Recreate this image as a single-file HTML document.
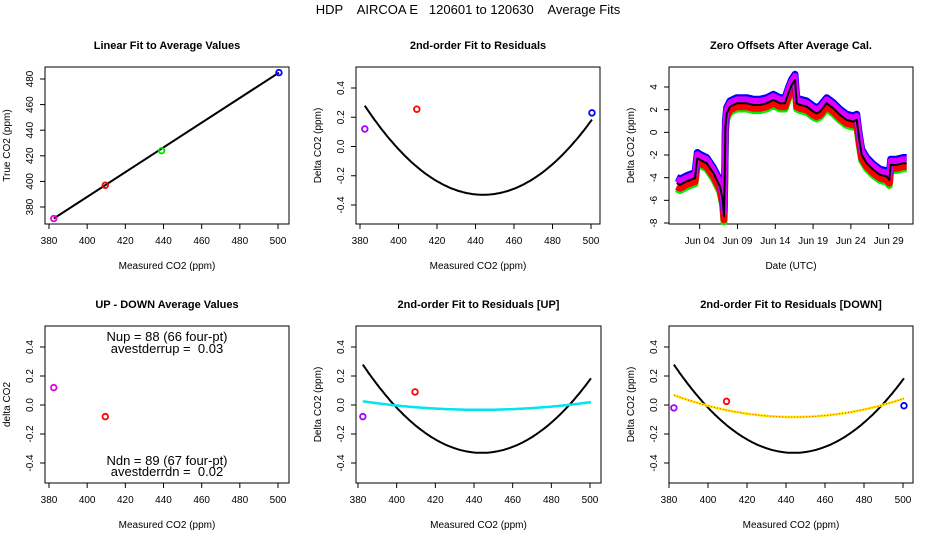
<!DOCTYPE html>
<html><head><meta charset="utf-8">
<style>
html,body{margin:0;padding:0;background:#fff;}
svg{display:block;font-family:"Liberation Sans",sans-serif;}
svg text{white-space:pre;}
</style></head>
<body>
<svg id="chart" width="936" height="540" viewBox="0 0 936 540" xmlns="http://www.w3.org/2000/svg" xml:space="preserve">
<text x="468" y="14" text-anchor="middle" font-size="13">HDP    AIRCOA E   120601 to 120630    Average Fits</text>
</svg>
<script>
// ---------- data ----------
const p1X = [382.5, 409.5, 439.0, 500.5];
const p1Y = [371, 397, 424, 485];
const p1Colors = ['#e000e0', '#ff0000', '#00dd00', '#0000ff'];
const p1Line = [[382.5, 371], [500.5, 485]];
const p2X = [382.5, 409.5, 500.5];
const p2Y = [0.12, 0.255, 0.23];
const p2Colors = ['#a000ff', '#ff0000', '#0000ff'];
const fitAll = [1.61e-4, 444, -0.33];
const fitUp = [1.6e-5, 443, -0.033];
const fitDown = [4.0e-5, 444, -0.083];
const fitRange = [382.5, 500.5];
const tsDays = [0.96,1.40,2.28,3.38,3.69,4.04,4.92,5.81,6.69,7.04,7.22,7.31,7.40,7.57,8.01,8.90,10.22,11.09,11.98,12.86,13.74,14.62,15.29,15.73,16.17,16.61,16.83,17.27,18.15,19.03,19.48,19.92,20.80,21.67,22.56,23.44,24.32,24.77,25.12,25.43,26.09,26.97,27.85,28.74,29.08,29.27,30.06,30.93,31.38];
const tsVals = [-4.48,-4.63,-4.33,-4.04,-2.28,-2.43,-2.72,-3.60,-4.77,-5.95,-7.41,-4.19,0.51,1.68,2.27,2.56,2.56,2.42,2.42,2.56,2.86,2.56,2.56,3.44,4.18,4.62,2.56,2.42,2.27,1.83,1.68,1.83,2.56,2.12,1.54,1.10,0.95,1.10,-0.67,-1.99,-2.72,-3.31,-3.75,-3.89,-4.19,-2.87,-2.87,-2.72,-2.72];
const tsSeriesNames = ['green', 'red', 'blue', 'magenta', 'black'];
const tsSeriesOffsets = [-0.5, -0.3, 0.5, 0.35, 0];
const tsSeriesColors = ['#00ee00', '#ff0000', '#0000ff', '#dd00ff', '#000000'];
const tsSeriesWidths = [7, 7, 7, 6, 2];
const tsTickDays = [4, 9, 14, 19, 24, 29];
const tsTickLabels = ['Jun 04', 'Jun 09', 'Jun 14', 'Jun 19', 'Jun 24', 'Jun 29'];
const p4X = [382.5, 409.5];
const p4Y = [0.12, -0.08];
const p4Colors = ['#e000e0', '#ff0000'];
const p5X = [382.5, 409.5];
const p5Y = [-0.08, 0.09];
const p5Colors = ['#a000ff', '#ff0000'];
const p6X = [382.5, 409.5, 500.5];
const p6Y = [-0.02, 0.025, -0.005];
const p6Colors = ['#a000ff', '#ff0000', '#0000ff'];
const co2Ticks = [380, 400, 420, 440, 460, 480, 500];
const trueTicks = [380, 400, 420, 440, 460, 480];
const resTicks = [-0.4, -0.2, 0.0, 0.2, 0.4];
const offTicks = [-8, -6, -4, -2, 0, 2, 4];

// ---------- drawing ----------
const svg = document.getElementById('chart');
const NS = 'http://www.w3.org/2000/svg';
function mk(tag, attrs, parent) {
  const e = document.createElementNS(NS, tag);
  for (const k in attrs) e.setAttribute(k, attrs[k]);
  (parent || svg).appendChild(e);
  return e;
}
function lin(d0, d1, p0, p1) { return v => p0 + (v - d0) * (p1 - p0) / (d1 - d0); }

function panel(name, box, sx, sy, title, xlab, ylab) {
  const g = mk('g', {});
  
  
  const r = mk('rect', {x: box[0], y: box[1], width: box[2] - box[0], height: box[3] - box[1], fill: 'none', stroke: '#000', 'stroke-width': 1}, g);
  
  
  const t = mk('text', {x: (box[0] + box[2]) / 2, y: box[1] - 18, 'text-anchor': 'middle', 'font-size': 11, 'font-weight': 'bold'}, g);
  t.textContent = title;
  
  
  const xl = mk('text', {x: (box[0] + box[2]) / 2, y: box[3] + 45, 'text-anchor': 'middle', 'font-size': 10}, g);
  xl.textContent = xlab;
  
  
  const cy = (box[1] + box[3]) / 2, cx = box[0] - 35;
  const yl = mk('text', {x: cx, y: cy, 'text-anchor': 'middle', 'font-size': 10, transform: 'rotate(-90 ' + cx + ' ' + cy + ')'}, g);
  yl.textContent = ylab;
  
  
  return g;
}
function xTicks(g, box, sx, vals, labels) {
  const p0 = sx(vals[0]), p1 = sx(vals[vals.length - 1]);
  mk('line', {x1: p0, x2: p1, y1: box[3], y2: box[3], stroke: '#000'}, g);
  vals.forEach((v, i) => {
    const x = sx(v);
    mk('line', {x1: x, x2: x, y1: box[3], y2: box[3] + 5, stroke: '#000'}, g);
    const t = mk('text', {x: x, y: box[3] + 20, 'text-anchor': 'middle', 'font-size': 10}, g);
    t.textContent = labels ? labels[i] : String(v);
    
    
  });
}
function yTicks(g, box, sy, vals, fmt) {
  vals.forEach(v => {
    const y = sy(v);
    mk('line', {x1: box[0] - 5, x2: box[0], y1: y, y2: y, stroke: '#000'}, g);
    const tx = box[0] - 12;
    const t = mk('text', {x: tx, y: y, 'text-anchor': 'middle', 'font-size': 10, transform: 'rotate(-90 ' + tx + ' ' + y + ')'}, g);
    t.textContent = fmt ? fmt(v) : String(v);
    
    
  });
}
function points(g, sx, sy, xs, ys, cols) {
  xs.forEach((x, i) => {
    const c = mk('circle', {cx: sx(x), cy: sy(ys[i]), r: 2.8, fill: 'none', stroke: cols[i], 'stroke-width': 1.8}, g);
    
    
  });
}
function quad(g, sx, sy, coef, color, width, dash) {
  let d = '';
  for (let x = fitRange[0]; x <= fitRange[1] + 0.01; x += 1) {
    const y = coef[0] * (x - coef[1]) * (x - coef[1]) + coef[2];
    d += (d ? 'L' : 'M') + sx(x).toFixed(1) + ',' + sy(y).toFixed(1);
  }
  const p = mk('path', {d: d, fill: 'none', stroke: color, 'stroke-width': width}, g);
  if (dash) p.setAttribute('stroke-dasharray', dash);
  
  
  return p;
}
const f1 = v => v.toFixed(1);

{
  const box = [45, 67, 289, 224];
  const sx = lin(380, 500, 49, 278), sy = lin(380, 480, 207, 79);
  const g = panel('linear-fit-panel', box, sx, sy, 'Linear Fit to Average Values', 'Measured CO2 (ppm)', 'True CO2 (ppm)');
  xTicks(g, box, sx, co2Ticks); yTicks(g, box, sy, trueTicks);
  const l = mk('line', {x1: sx(p1Line[0][0]), y1: sy(p1Line[0][1]), x2: sx(p1Line[1][0]), y2: sy(p1Line[1][1]), stroke: '#000', 'stroke-width': 2}, g);
  
  
  points(g, sx, sy, p1X, p1Y, p1Colors);
}
{
  const box = [356, 67, 600, 224];
  const sx = lin(380, 500, 360, 591), sy = lin(-0.4, 0.4, 205, 88);
  const g = panel('residual-fit-panel', box, sx, sy, '2nd-order Fit to Residuals', 'Measured CO2 (ppm)', 'Delta CO2 (ppm)');
  xTicks(g, box, sx, co2Ticks); yTicks(g, box, sy, resTicks, f1);
  quad(g, sx, sy, fitAll, '#000', 2);
  points(g, sx, sy, p2X, p2Y, p2Colors);
}
{
  const box = [669, 67, 913, 224];
  const sx = lin(1, 26, 677, 866), sy = lin(-8, 4, 223, 87);
  const g = panel('zero-offsets-panel', box, sx, sy, 'Zero Offsets After Average Cal.', 'Date (UTC)', 'Delta CO2 (ppm)');
  mk('line', {x1: box[0], x2: box[0], y1: sy(-8), y2: sy(4), stroke: '#000'}, g);
  xTicks(g, box, sx, tsTickDays, tsTickLabels); yTicks(g, box, sy, offTicks);
  tsSeriesNames.forEach((nm, s) => {
    let d = '';
    tsDays.forEach((t, i) => { d += (i ? 'L' : 'M') + sx(t).toFixed(1) + ',' + sy(tsVals[i] + tsSeriesOffsets[s]).toFixed(1); });
    const p = mk('path', {d: d, fill: 'none', stroke: tsSeriesColors[s], 'stroke-width': tsSeriesWidths[s], 'stroke-linejoin': 'round'}, g);
    
    
  });
}
{
  const box = [45, 326, 289, 483];
  const sx = lin(380, 500, 49, 278), sy = lin(-0.4, 0.4, 463, 347);
  const g = panel('up-down-panel', box, sx, sy, 'UP - DOWN Average Values', 'Measured CO2 (ppm)', 'delta CO2');
  xTicks(g, box, sx, co2Ticks); yTicks(g, box, sy, resTicks, f1);
  points(g, sx, sy, p4X, p4Y, p4Colors);
  const lines = [['Nup = 88 (66 four-pt)', 341], ['avestderrup =  0.03', 353], ['Ndn = 89 (67 four-pt)', 465], ['avestderrdn =  0.02', 476]];
  lines.forEach(a => {
    const t = mk('text', {x: 167, y: a[1], 'text-anchor': 'middle', 'font-size': 13}, g);
    t.textContent = a[0];
    
    
  });
}
{
  const box = [356, 326, 601, 483];
  const sx = lin(380, 500, 358, 590), sy = lin(-0.4, 0.4, 463, 347);
  const g = panel('residual-up-panel', box, sx, sy, '2nd-order Fit to Residuals [UP]', 'Measured CO2 (ppm)', 'Delta CO2 (ppm)');
  xTicks(g, box, sx, co2Ticks); yTicks(g, box, sy, resTicks, f1);
  quad(g, sx, sy, fitAll, '#000', 2);
  quad(g, sx, sy, fitUp, '#00e5ee', 2.5);
  points(g, sx, sy, p5X, p5Y, p5Colors);
}
{
  const box = [669, 326, 913, 483];
  const sx = lin(380, 500, 669, 903), sy = lin(-0.4, 0.4, 463, 347);
  const g = panel('residual-down-panel', box, sx, sy, '2nd-order Fit to Residuals [DOWN]', 'Measured CO2 (ppm)', 'Delta CO2 (ppm)');
  xTicks(g, box, sx, co2Ticks); yTicks(g, box, sy, resTicks, f1);
  quad(g, sx, sy, fitAll, '#000', 2);
  quad(g, sx, sy, fitDown, '#ffee00', 2.5);
  quad(g, sx, sy, fitDown, '#ff3300', 1, '1,2');
  points(g, sx, sy, p6X, p6Y, p6Colors);
}
</script>
</body></html>
